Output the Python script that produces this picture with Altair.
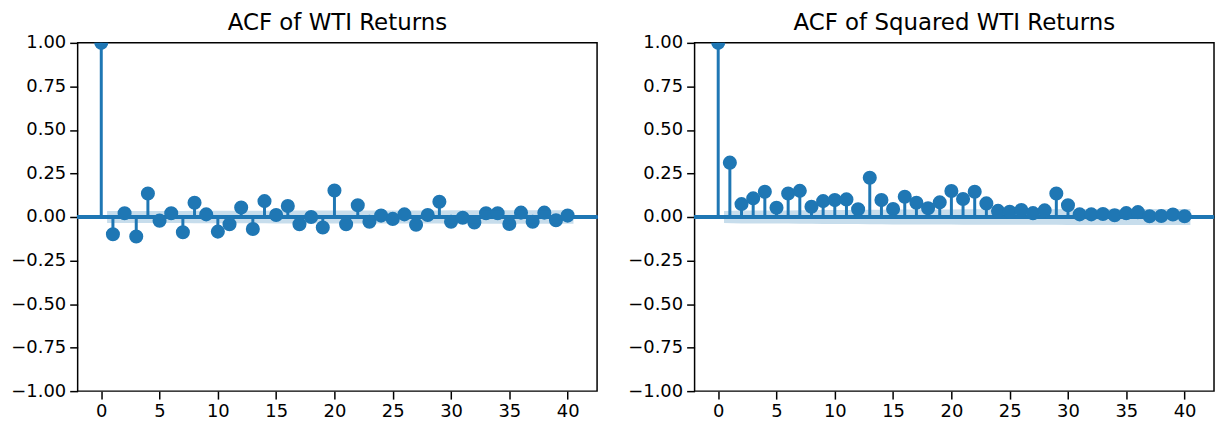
import altair as alt
import pandas as pd

C0 = "#1f77b4"

lags = list(range(41))

acf_returns = [1.0, -0.099, 0.021, -0.112, 0.135, -0.021, 0.021, -0.088, 0.082, 0.015,
               -0.084, -0.042, 0.055, -0.069, 0.091, 0.011, 0.063, -0.042, 0.0, -0.060,
               0.152, -0.042, 0.067, -0.027, 0.008, -0.011, 0.015, -0.044, 0.011, 0.088,
               -0.027, -0.004, -0.032, 0.021, 0.021, -0.040, 0.025, -0.027, 0.025, -0.019,
               0.008]

acf_squared = [1.0, 0.312, 0.074, 0.107, 0.145, 0.053, 0.135, 0.150, 0.059, 0.091,
               0.097, 0.101, 0.044, 0.225, 0.097, 0.046, 0.116, 0.082, 0.050, 0.084,
               0.149, 0.103, 0.145, 0.078, 0.035, 0.030, 0.040, 0.022, 0.038, 0.135,
               0.067, 0.015, 0.015, 0.017, 0.010, 0.022, 0.028, 0.004, 0.006, 0.014,
               0.004]

# confidence band (half width) for lags 1..40, band spans 0.5 .. 40.5
band_x = [0.5] + list(range(2, 40)) + [40.5]
band_returns = [0.034, 0.034, 0.034, 0.035, 0.035, 0.035, 0.035, 0.036, 0.036, 0.036,
                0.036, 0.036, 0.036, 0.036, 0.037, 0.037, 0.037, 0.037, 0.037, 0.037,
                0.038, 0.038, 0.038, 0.038, 0.038, 0.038, 0.038, 0.038, 0.038, 0.039,
                0.039, 0.039, 0.039, 0.039, 0.039, 0.039, 0.039, 0.039, 0.039, 0.039]
band_squared = [0.034, 0.037, 0.037, 0.037, 0.038, 0.038, 0.039, 0.039, 0.040, 0.040,
                0.040, 0.040, 0.041, 0.042, 0.043, 0.043, 0.043, 0.043, 0.043, 0.043,
                0.044, 0.044, 0.045, 0.045, 0.045, 0.045, 0.045, 0.045, 0.045, 0.046,
                0.046, 0.046, 0.046, 0.046, 0.046, 0.046, 0.046, 0.046, 0.046, 0.046]

x_ticks = list(range(0, 41, 5))
y_ticks = [-1.0, -0.75, -0.5, -0.25, 0.0, 0.25, 0.5, 0.75, 1.0]

W, H = 522, 350


def panel(vals, band, title):
    df = pd.DataFrame({"lag": lags, "acf": vals})
    bdf = pd.DataFrame({"x": band_x, "lo": [-b for b in band], "hi": band})
    xs = alt.Scale(domain=[-2.025, 42.525], nice=False, zero=False)
    ys = alt.Scale(domain=[-1, 1], nice=False, zero=False)
    xa = alt.Axis(values=x_ticks, format="d", title=None)
    ya = alt.Axis(values=y_ticks, format=".2f", title=None)

    stems = alt.Chart(df).mark_rule(color=C0, strokeWidth=3).encode(
        x=alt.X("lag:Q", scale=xs, axis=xa),
        y=alt.Y("acf:Q", scale=ys, axis=ya),
        y2=alt.datum(0),
    )
    zero = alt.Chart(df).mark_rule(color=C0, strokeWidth=3).encode(
        y=alt.datum(0)
    )
    dots = alt.Chart(df).mark_circle(color=C0, size=200, opacity=1, clip=True).encode(
        x=alt.X("lag:Q", scale=xs, axis=xa),
        y=alt.Y("acf:Q", scale=ys, axis=ya),
    )
    area = alt.Chart(bdf).mark_area(color=C0, opacity=0.25).encode(
        x=alt.X("x:Q", scale=xs, axis=xa),
        y=alt.Y("lo:Q", scale=ys, axis=ya),
        y2="hi:Q",
    )
    return alt.layer(stems, zero, dots, area).properties(
        width=W, height=H, title=title
    )


left = panel(acf_returns, band_returns, "ACF of WTI Returns")
right = panel(acf_squared, band_squared, "ACF of Squared WTI Returns")

chart = alt.hconcat(left, right, spacing=98, bounds="flush").properties(
    padding={"left": 2, "top": 2, "right": 0, "bottom": 0}
).configure_axis(
    grid=False,
    domain=False,
    tickColor="black",
    tickSize=8,
    tickWidth=1.5,
    labelFont="DejaVu Sans",
    labelFontSize=18,
    labelColor="black",
    labelPadding=4,
).configure_view(
    stroke="black", strokeWidth=1.5
).configure_title(
    font="DejaVu Sans", fontSize=23, fontWeight="normal", color="black",
    anchor="middle", offset=-1
)

chart.save("out.html", embed_options={"renderer": "svg", "actions": False})
